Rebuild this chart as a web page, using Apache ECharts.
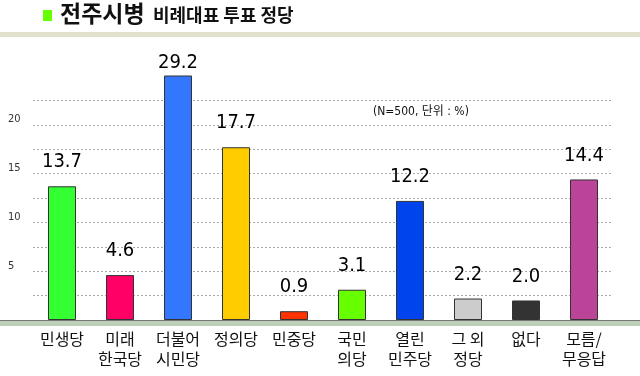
<!DOCTYPE html>
<html>
<head>
<meta charset="utf-8">
<script src="https://cdn.jsdelivr.net/npm/echarts@6/dist/echarts.min.js"></script>
<style>
  html, body { margin: 0; padding: 0; background: #fff; }
  #chart { width: 640px; height: 376px; }
</style>
</head>
<body>
<div id="chart"></div>
<script>
// 데이터
var categories = ['민생당', '미래\n한국당', '더불어\n시민당', '정의당', '민중당', '국민\n의당', '열린\n민주당', '그 외\n정당', '없다', '모름/\n무응답'];
var values = [13.7, 4.6, 29.2, 17.7, 0.9, 3.1, 12.2, 2.2, 2.0, 14.4];
var barColors = ['#33ff33', '#ff0066', '#3377ff', '#ffcc00', '#ff3300', '#66ff00', '#0044ee', '#cccccc', '#333333', '#bb4499'];
var yTickLabels = [5, 10, 15, 20];

var krFont = '"Noto Sans CJK KR", "Noto Sans", sans-serif';
var numFont = '"DejaVu Sans Condensed", "Liberation Sans", Arial, sans-serif';

var myChart = echarts.init(document.getElementById('chart'));

var barData = values.map(function (v, i) {
    var item = {
        value: v,
        itemStyle: { color: barColors[i] }
    };
    if (v > 25) {
        // 막대가 축 위로 잘리므로 라벨을 가깝게
        item.label = { distance: 3 };
    }
    return item;
});

var option = {
    animation: false,
    backgroundColor: '#ffffff',
    grid: { left: 33, right: 27, top: 76, bottom: 56 },
    xAxis: {
        type: 'category',
        data: categories,
        axisLine: { show: false },
        axisTick: { show: false },
        axisLabel: {
            color: '#111',
            fontFamily: krFont,
            fontSize: 16,
            lineHeight: 20,
            margin: 9,
            interval: 0
        }
    },
    yAxis: {
        type: 'value',
        min: 0,
        max: 25,
        interval: 2.5,
        axisLine: { show: false },
        axisTick: { show: false },
        axisLabel: {
            align: 'left',
            verticalAlign: 'bottom',
            margin: 25,
            color: '#333',
            fontFamily: numFont,
            fontSize: 11,
            formatter: function (v) {
                return yTickLabels.indexOf(v) >= 0 ? String(v) : '';
            }
        },
        splitLine: {
            show: true,
            showMinLine: false,
            showMaxLine: false,
            lineStyle: { color: '#aaaaaa', type: [2, 2], width: 1 }
        }
    },
    series: [{
        type: 'bar',
        data: barData,
        barWidth: 28,
        clip: true,
        itemStyle: { borderColor: '#333', borderWidth: 1 },
        label: {
            show: true,
            position: 'top',
            distance: 14,
            color: '#000',
            fontFamily: numFont,
            fontSize: 20,
            formatter: function (p) {
                return p.value.toFixed(1);
            }
        },
        z: 3
    }],
    graphic: [
        { type: 'rect', shape: { x: 43, y: 10, width: 9, height: 11 }, style: { fill: '#66ff00' } },
        { type: 'text', x: 60, y: 13, style: { text: '전주시병', font: 'bold 23px ' + krFont, fill: '#111', verticalAlign: 'middle' } },
        { type: 'text', x: 153, y: 15, style: { text: '비례대표 투표 정당', font: 'bold 18px ' + krFont, fill: '#111', verticalAlign: 'middle' } },
        { type: 'rect', shape: { x: 0, y: 32, width: 640, height: 5 }, style: { fill: '#e2e2cc' } },
        { type: 'text', x: 373, y: 112, style: { text: '(N=500, 단위 : %)', font: '12px ' + numFont + ', ' + krFont, fill: '#111', verticalAlign: 'middle' } },
        { type: 'rect', z: 10, shape: { x: 0, y: 320, width: 640, height: 1 }, style: { fill: '#777' } },
        { type: 'rect', z: 10, shape: { x: 0, y: 321, width: 640, height: 5 }, style: { fill: '#bcd0b8' } }
    ]
};

myChart.setOption(option);
</script>
</body>
</html>
